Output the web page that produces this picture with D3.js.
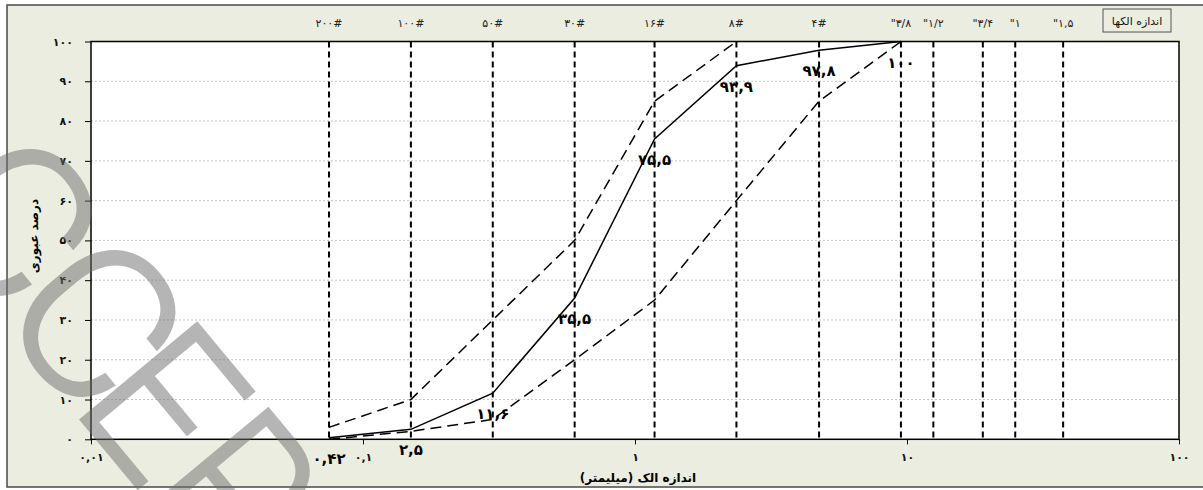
<!DOCTYPE html>
<html>
<head>
<meta charset="utf-8">
<script src="https://cdn.jsdelivr.net/npm/d3@7"></script>
<style>
  html, body { margin: 0; padding: 0; background: #ffffff; }
  svg { display: block; }
</style>
</head>
<body>
<svg id="chart" width="1203" height="490"></svg>
<script>
// Sieve openings (mm) and their names shown along the top of the plot
const sieveSizes = [0.075, 0.15, 0.3, 0.6, 1.18, 2.36, 4.75, 9.5, 12.5, 19, 25, 37.5];
const sieveNames = ["۲۰۰#", "۱۰۰#", "۵۰#", "۳۰#", "۱۶#", "۸#", "۴#", "\"۳/۸", "\"۱/۲", "\"۳/۴", "\"۱", "\"۱,۵"];

// Gradation curve (percent passing)
const gradSizes = [0.075, 0.15, 0.3, 0.6, 1.18, 2.36, 4.75, 9.5];
const passing   = [0.42, 2.5, 11.6, 35.5, 75.5, 93.9, 97.8, 100];

// Specification envelope
const upperSizes = [0.075, 0.15, 0.3, 0.6, 1.18, 2.36];
const upperLimit = [3, 10, 30, 50, 85, 100];
const lowerSizes = [0.075, 0.15, 0.3, 0.6, 1.18, 2.36, 4.75, 9.5];
const lowerLimit = [0, 2, 5, 20, 35, 60, 85, 100];

// Axis ticks
const xTicks = [0.01, 0.1, 1, 10, 100];
const yTicks = [0, 10, 20, 30, 40, 50, 60, 70, 80, 90, 100];

// Titles
const xTitle = "اندازه الک (میلیمتر)";
const yTitle = "درصد عبوری";
const caption = "اندازه الکها";

// Watermark letters, offsets along the stamp baseline and horizontal stretch
const stampLetters = ["A", "C", "C", "E", "P", "T", "E", "D"];
const stampOffsets = [-350, -207, -76, 29, 141, 262, 360, 470];
const stampStretch = [1, 1.05, 1.05, 0.95, 0.87, 0.9, 0.95, 1];

const FA_DIGITS = "۰۱۲۳۴۵۶۷۸۹";
const fa = v => String(v).replace(/\d/g, d => FA_DIGITS[+d]).replace(/\./g, ",");

const svg = d3.select("#chart");
const FONT = "'DejaVu Sans', sans-serif";

const plot = { left: 91, right: 1179, top: 41.5, bottom: 439.3 };

const x = d3.scaleLog().domain([0.01, 100]).range([plot.left, plot.right]);
const y = d3.scaleLinear().domain([0, 100]).range([plot.bottom, plot.top]);

// chart background
svg.append("rect")
  .attr("x", 7).attr("y", 5).attr("width", 1210).attr("height", 482)
  .attr("fill", "#eaeddf").attr("stroke", "#4a4a4a").attr("stroke-width", 1.5);

// plot area
svg.append("rect")
  .attr("x", plot.left).attr("y", plot.top)
  .attr("width", plot.right - plot.left).attr("height", plot.bottom - plot.top)
  .attr("fill", "#ffffff");

// horizontal gridlines
svg.append("g").selectAll("line")
  .data(yTicks.filter(v => v > 0 && v < 100))
  .join("line")
  .attr("x1", plot.left).attr("x2", plot.right)
  .attr("y1", d => y(d)).attr("y2", d => y(d))
  .attr("stroke", "#c4c4c4").attr("stroke-width", 1)
  .attr("stroke-dasharray", "2,2");

// sieve lines
svg.append("g").selectAll("line")
  .data(sieveSizes)
  .join("line")
  .attr("x1", d => x(d)).attr("x2", d => x(d))
  .attr("y1", y(100)).attr("y2", y(0))
  .attr("stroke", "#000").attr("stroke-width", 2)
  .attr("stroke-dasharray", "6,4");

// sieve names
svg.append("g").selectAll("text")
  .data(sieveSizes)
  .join("text")
  .attr("x", d => x(d)).attr("y", 27)
  .attr("text-anchor", "middle")
  .attr("font-family", FONT).attr("font-size", 11)
  .attr("letter-spacing", 0.5)
  .attr("fill", "#222")
  .text((d, i) => sieveNames[i]);

// caption box
svg.append("rect")
  .attr("x", 1103).attr("y", 9).attr("width", 68).attr("height", 23)
  .attr("fill", "#eaeddf").attr("stroke", "#555").attr("stroke-width", 1);
svg.append("text")
  .attr("x", 1137).attr("y", 25)
  .attr("text-anchor", "middle")
  .attr("font-family", FONT).attr("font-size", 11).attr("fill", "#111")
  .text(caption);

// envelope lines
const line = d3.line().x(d => x(d[0])).y(d => y(d[1]));
svg.append("path")
  .datum(upperSizes.map((s, i) => [s, upperLimit[i]]))
  .attr("d", line)
  .attr("fill", "none").attr("stroke", "#000").attr("stroke-width", 1.5)
  .attr("stroke-dasharray", "11,6");
svg.append("path")
  .datum(lowerSizes.map((s, i) => [s, lowerLimit[i]]))
  .attr("d", line)
  .attr("fill", "none").attr("stroke", "#000").attr("stroke-width", 1.5)
  .attr("stroke-dasharray", "11,6");

// gradation curve
svg.append("path")
  .datum(gradSizes.map((s, i) => [s, passing[i]]))
  .attr("d", line)
  .attr("fill", "none").attr("stroke", "#000").attr("stroke-width", 1.5);

// value labels
svg.append("g").selectAll("text")
  .data(gradSizes.map((s, i) => [s, passing[i]]))
  .join("text")
  .attr("x", d => x(d[0])).attr("y", d => y(d[1]) + 26)
  .attr("text-anchor", "middle")
  .attr("font-family", FONT).attr("font-size", 15).attr("font-weight", "bold")
  .attr("letter-spacing", 3)
  .attr("fill", "#000")
  .text(d => fa(d[1]));

// plot frame
svg.append("rect")
  .attr("x", plot.left).attr("y", plot.top)
  .attr("width", plot.right - plot.left).attr("height", plot.bottom - plot.top)
  .attr("fill", "none").attr("stroke", "#000").attr("stroke-width", 1.5);

// y axis
const yAxis = svg.append("g")
  .attr("transform", `translate(${plot.left},0)`)
  .call(d3.axisLeft(y).tickValues(yTicks).tickFormat(fa).tickSize(6).tickSizeOuter(0).tickPadding(12));
yAxis.select(".domain").remove();
yAxis.selectAll(".tick line").attr("stroke", "#000");
yAxis.selectAll(".tick text")
  .attr("font-family", FONT).attr("font-size", 11).attr("font-weight", "bold")
  .attr("letter-spacing", 2).attr("fill", "#111");

// x axis
const xAxis = svg.append("g")
  .attr("transform", `translate(0,${plot.bottom})`)
  .call(d3.axisBottom(x).tickValues(xTicks).tickFormat(fa).tickSize(5).tickSizeOuter(0).tickPadding(9));
xAxis.select(".domain").remove();
xAxis.selectAll(".tick line").attr("stroke", "#000");
xAxis.selectAll(".tick text")
  .attr("font-family", FONT).attr("font-size", 11).attr("font-weight", "bold")
  .attr("letter-spacing", 2).attr("fill", "#111");

// axis titles
svg.append("text")
  .attr("transform", "translate(38,236) rotate(-90)")
  .attr("text-anchor", "middle")
  .attr("font-family", FONT).attr("font-size", 12).attr("font-weight", "bold")
  .attr("fill", "#000")
  .text(yTitle);
svg.append("text")
  .attr("x", 638).attr("y", 482)
  .attr("text-anchor", "middle")
  .attr("font-family", FONT).attr("font-size", 12).attr("font-weight", "bold")
  .attr("fill", "#000")
  .text(xTitle);

// stamp watermark
const stamp = svg.append("g")
  .attr("transform", "translate(93,423) rotate(50.3)")
  .attr("opacity", 0.5);
stamp.selectAll("text")
  .data(stampLetters)
  .join("text")
  .attr("transform", (d, i) => `translate(${stampOffsets[i]},7) scale(${stampStretch[i]},1)`)
  .attr("text-anchor", "middle")
  .attr("font-family", "Roboto, sans-serif").attr("font-weight", 300)
  .attr("font-size", 212)
  .attr("fill", "#6e6e6e")
  .attr("stroke", "#6e6e6e").attr("stroke-width", 3)
  .text(d => d);
</script>
</body>
</html>
